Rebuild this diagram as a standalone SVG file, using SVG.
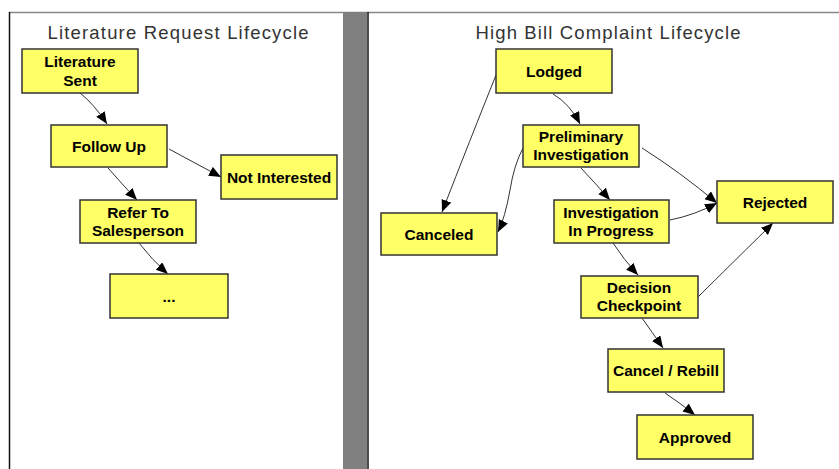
<svg xmlns="http://www.w3.org/2000/svg" width="839" height="469" viewBox="0 0 839 469">
<style>
.node rect{fill:#ffff66;stroke:#333;stroke-width:1.5}
.node text{font-family:"Liberation Sans",Arial,sans-serif;font-weight:bold;font-size:15.5px;fill:#000;text-anchor:middle}
.title{font-family:"Liberation Sans",Arial,sans-serif;font-size:18.5px;fill:#333;text-anchor:middle}
#connectors path{fill:none;stroke:#333;stroke-width:1;marker-end:url(#arr)}
</style>
<defs>
<marker id="arr" markerUnits="userSpaceOnUse" markerWidth="13" markerHeight="11" refX="12" refY="5" orient="auto">
<path d="M0,0 L12,5 L0,10 z" fill="#000"/>
</marker>
</defs>
<rect width="839" height="469" fill="#fff"/>
<g id="frame">
<line x1="9" y1="12.5" x2="839" y2="12.5" stroke="#888" stroke-width="1.5"/>
<line x1="9.5" y1="12" x2="9.5" y2="469" stroke="#111" stroke-width="1.5"/>
<rect x="343" y="12" width="24" height="457" fill="#808080"/>
<line x1="368" y1="12" x2="368" y2="469" stroke="#111" stroke-width="1.5"/>
</g>
<text class="title" x="178" y="39" textLength="261" lengthAdjust="spacing">Literature Request Lifecycle</text>
<text class="title" x="608" y="39" textLength="265" lengthAdjust="spacing">High Bill Complaint Lifecycle</text>
<g id="connectors">
<path d="M80,93 Q94,104 107,124"/>
<path d="M169,149 Q195,163 221,177"/>
<path d="M108,168 Q122,184 137,200"/>
<path d="M139,243 Q152,260 168,274"/>
<path d="M496,75 Q470,140 442,212"/>
<path d="M553,94 Q570,104 580,124"/>
<path d="M523,148 Q514,165 510,190 Q505,218 498,232"/>
<path d="M642,148 Q680,172 717,203"/>
<path d="M670,220 Q695,215 717,203"/>
<path d="M581,168 Q596,184 610,200"/>
<path d="M613,243 Q624,260 638,275"/>
<path d="M698,297 Q712,283 773,223"/>
<path d="M642,318 Q652,332 663,348"/>
<path d="M665,393 Q680,403 695,415"/>
</g>
<g id="n-literature-sent" class="node"><rect x="22" y="49" width="116" height="44"/><text x="80" y="67">Literature</text><text x="80" y="86">Sent</text></g>
<g id="n-follow-up" class="node"><rect x="51" y="125" width="116" height="42"/><text x="109" y="152">Follow Up</text></g>
<g id="n-not-interested" class="node"><rect x="221" y="155" width="116" height="44"/><text x="279" y="183">Not Interested</text></g>
<g id="n-refer" class="node"><rect x="80" y="200" width="116" height="43"/><text x="138" y="218">Refer To</text><text x="138" y="236">Salesperson</text></g>
<g id="n-more" class="node"><rect x="110" y="274" width="118" height="44"/><text x="169" y="302">...</text></g>
<g id="n-lodged" class="node"><rect x="496" y="49" width="116" height="44"/><text x="554" y="77">Lodged</text></g>
<g id="n-preliminary" class="node"><rect x="523" y="125" width="116" height="42"/><text x="581" y="142">Preliminary</text><text x="581" y="160">Investigation</text></g>
<g id="n-rejected" class="node"><rect x="717" y="181" width="116" height="42"/><text x="775" y="208">Rejected</text></g>
<g id="n-canceled" class="node"><rect x="381" y="213" width="116" height="42"/><text x="439" y="240">Canceled</text></g>
<g id="n-in-progress" class="node"><rect x="554" y="200" width="115" height="43"/><text x="611" y="218">Investigation</text><text x="611" y="236">In Progress</text></g>
<g id="n-decision" class="node"><rect x="581" y="276" width="117" height="42"/><text x="639" y="293">Decision</text><text x="639" y="311">Checkpoint</text></g>
<g id="n-cancel-rebill" class="node"><rect x="608" y="349" width="116" height="43"/><text x="666" y="376">Cancel / Rebill</text></g>
<g id="n-approved" class="node"><rect x="637" y="415" width="116" height="44"/><text x="695" y="443">Approved</text></g>
</svg>
